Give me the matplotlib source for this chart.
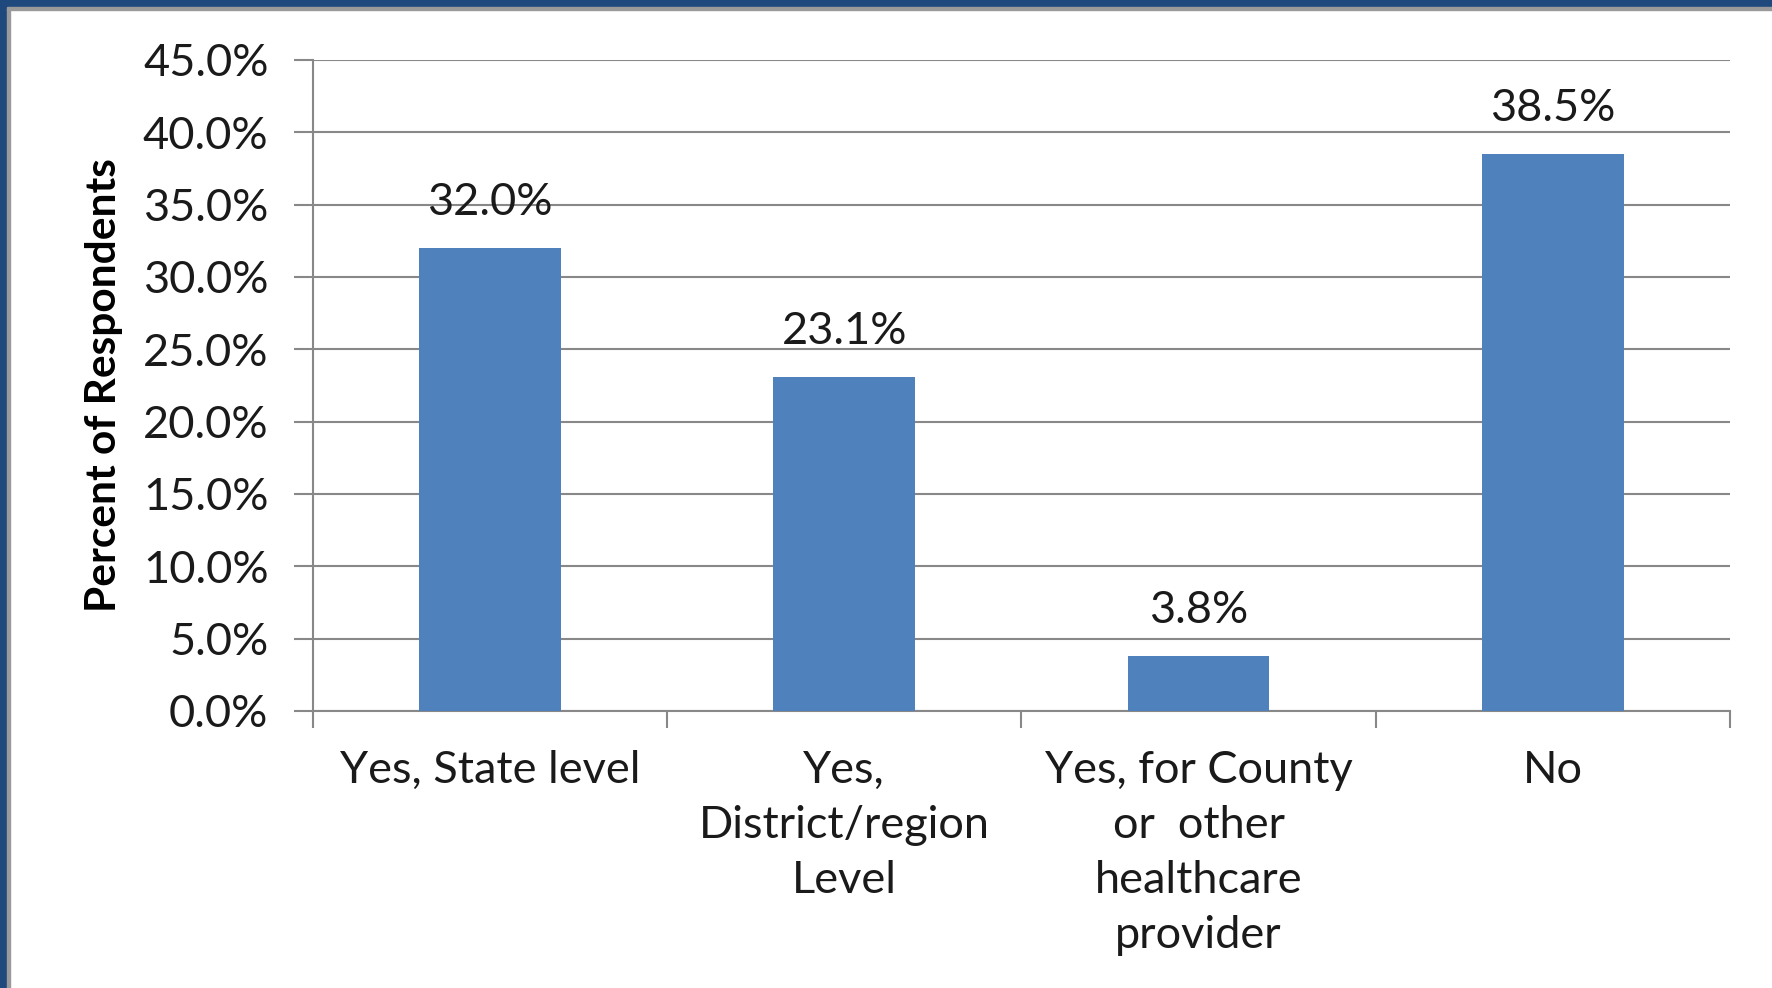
import matplotlib.pyplot as plt
from matplotlib.patches import Rectangle

plt.rcParams["font.family"] = ["Lato", "DejaVu Sans"]

categories = [
    "Yes, State level",
    "Yes,\nDistrict/region\nLevel",
    "Yes, for County\nor  other\nhealthcare\nprovider",
    "No",
]
percent = [32.0, 23.1, 3.8, 38.5]
y_ticks = [0, 5, 10, 15, 20, 25, 30, 35, 40, 45]

BAR_COLOR = "#4F81BD"
GRID_COLOR = "#888888"
TEXT_SIZE = 32.5

fig = plt.figure(figsize=(17.72, 9.88), dpi=100)
ax = fig.add_axes([0.1766, 0.2804, 0.7997, 0.6589])

x = range(len(categories))
bars = ax.bar(x, percent, width=0.40, color=BAR_COLOR, zorder=3)
for rect, val in zip(bars, percent):
    ax.annotate(f"{val:.1f}%", (rect.get_x() + rect.get_width() / 2, val),
                xytext=(0, 18), textcoords="offset points",
                ha="center", va="bottom", fontsize=TEXT_SIZE, color="#1a1a1a")

ax.set_xlim(-0.5, len(categories) - 0.5)
ax.set_ylim(0, 45)
ax.set_yticks(y_ticks)
ax.set_yticklabels([f"{t:.1f}%" for t in y_ticks], fontsize=TEXT_SIZE, color="#1a1a1a")
ax.yaxis.grid(True, color=GRID_COLOR, linewidth=1.5, zorder=0)

# category labels sit between boundary ticks
ax.set_xticks([i - 0.5 for i in range(len(categories) + 1)])
ax.set_xticklabels([])
ax.set_xticks(list(x), minor=True)
ax.set_xticklabels(categories, minor=True, fontsize=TEXT_SIZE, color="#1a1a1a",
                   linespacing=1.43, va="top")
ax.tick_params(axis="x", which="minor", length=0, pad=28)
ax.tick_params(axis="x", which="major", length=12, width=1.5, color=GRID_COLOR)
ax.tick_params(axis="y", length=14, width=1.5, color=GRID_COLOR, pad=18)

for side in ("top", "right"):
    ax.spines[side].set_visible(False)
for side in ("left", "bottom"):
    ax.spines[side].set_color(GRID_COLOR)
    ax.spines[side].set_linewidth(1.5)

ax.set_ylabel("Percent of Respondents", fontsize=30.5, fontweight="bold", labelpad=14)

# slide frame along the top and left edges
fig.patches.append(Rectangle((0, 0), 7 / 1772, 1, transform=fig.transFigure,
                             color="#1F497D", zorder=10))
fig.patches.append(Rectangle((7 / 1772, 0), 3 / 1772, 1 - 9 / 988, transform=fig.transFigure,
                             color="#9a9a9a", zorder=10))
fig.patches.append(Rectangle((0, 1 - 7 / 988), 1, 7 / 988, transform=fig.transFigure,
                             color="#1F497D", zorder=10))
fig.patches.append(Rectangle((7 / 1772, 1 - 10 / 988), 1, 3 / 988, transform=fig.transFigure,
                             color="#9a9a9a", zorder=10))

fig.savefig("out.png", dpi=100)
